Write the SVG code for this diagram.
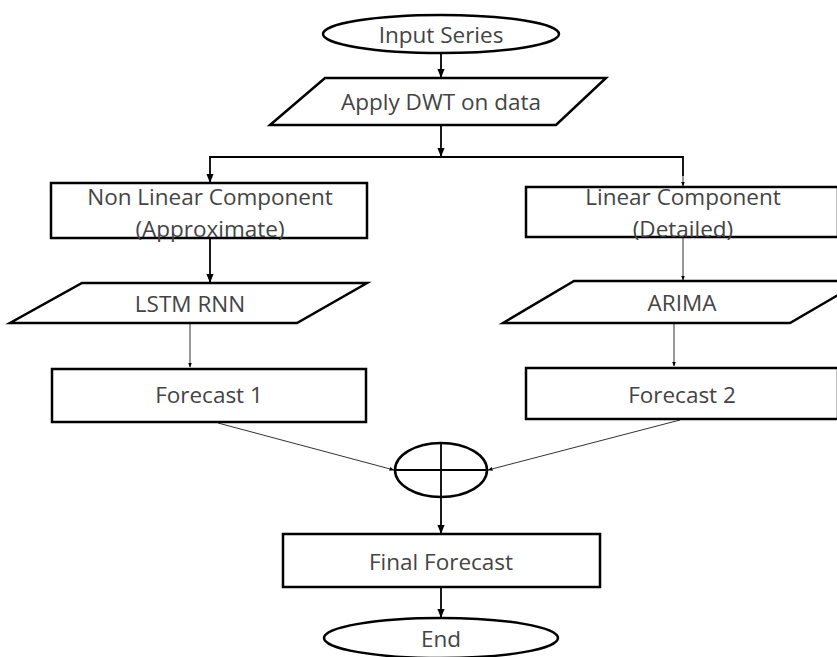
<svg xmlns="http://www.w3.org/2000/svg" width="837" height="657" viewBox="0 0 837 657">
<defs>
<style>
.s{fill:#fff;stroke:#000;stroke-width:2.5}
.t{font-family:"Open Sans","Liberation Sans",sans-serif;font-size:22.5px;fill:#444;text-anchor:middle}
.c{fill:none;stroke:#000;stroke-width:1.8}
.c2{fill:none;stroke:#333;stroke-width:1}
</style>
<marker id="a" viewBox="0 0 10 10" refX="9" refY="5" markerWidth="5" markerHeight="5" orient="auto"><path d="M0,1 L10,5 L0,9 z" fill="#000"/></marker>
</defs>
<g id="connectors">
<path class="c" d="M441,53 V77" marker-end="url(#a)"/>
<path class="c" d="M441,125 V156" marker-end="url(#a)"/>
<path class="c" d="M210,174 V157 H683 V176"/>
<path class="c" d="M210,174 V182" marker-end="url(#a)"/>
<path class="c2" d="M683,176 V186" marker-end="url(#a)"/>
<path class="c" d="M210,238 V282" marker-end="url(#a)"/>
<path class="c2" d="M683,237 V280" marker-end="url(#a)"/>
<path class="c2" d="M190,323 V367" marker-end="url(#a)"/>
<path class="c2" d="M674,323 V366" marker-end="url(#a)"/>
<path class="c2" d="M218,423 L394,470" marker-end="url(#a)"/>
<path class="c2" d="M680,420 L488,470" marker-end="url(#a)"/>
<path class="c" d="M441,497 V533" marker-end="url(#a)"/>
<path class="c" d="M441,587 V617" marker-end="url(#a)"/>
</g>
<g id="input"><ellipse class="s" cx="441" cy="34" rx="118" ry="19"/><text class="t" x="441" y="43">Input Series</text></g>
<g id="dwt"><polygon class="s" points="325,78 606,78 556,125 270,125"/><text class="t" x="441" y="110">Apply DWT on data</text></g>
<g id="nonlinear"><rect class="s" x="51" y="183" width="316" height="55"/><text class="t" x="210" y="205">Non Linear Component</text><text class="t" x="210" y="237">(Approximate)</text></g>
<g id="linear"><rect class="s" x="526" y="187" width="312" height="50"/><text class="t" x="683" y="205">Linear Component</text><text class="t" x="683" y="237">(Detailed)</text></g>
<g id="lstm"><polygon class="s" points="82,283 367,283 297,323 10,323"/><text class="t" x="190" y="312">LSTM RNN</text></g>
<g id="arima"><polygon class="s" points="574,281 862,281 790,323 503,323"/><text class="t" x="682" y="311">ARIMA</text></g>
<g id="f1"><rect class="s" x="52" y="369" width="314" height="53"/><text class="t" x="209" y="403">Forecast 1</text></g>
<g id="f2"><rect class="s" x="526" y="368" width="312" height="51"/><text class="t" x="682" y="403">Forecast 2</text></g>
<g id="sum"><ellipse class="s" cx="441" cy="470" rx="46" ry="27"/><path class="c" d="M441,443 V497 M395,470 H487"/></g>
<g id="final"><rect class="s" x="283" y="534" width="317" height="53"/><text class="t" x="441" y="570">Final Forecast</text></g>
<g id="end"><ellipse class="s" cx="441" cy="638" rx="117" ry="20"/><text class="t" x="441" y="647">End</text></g>
</svg>
